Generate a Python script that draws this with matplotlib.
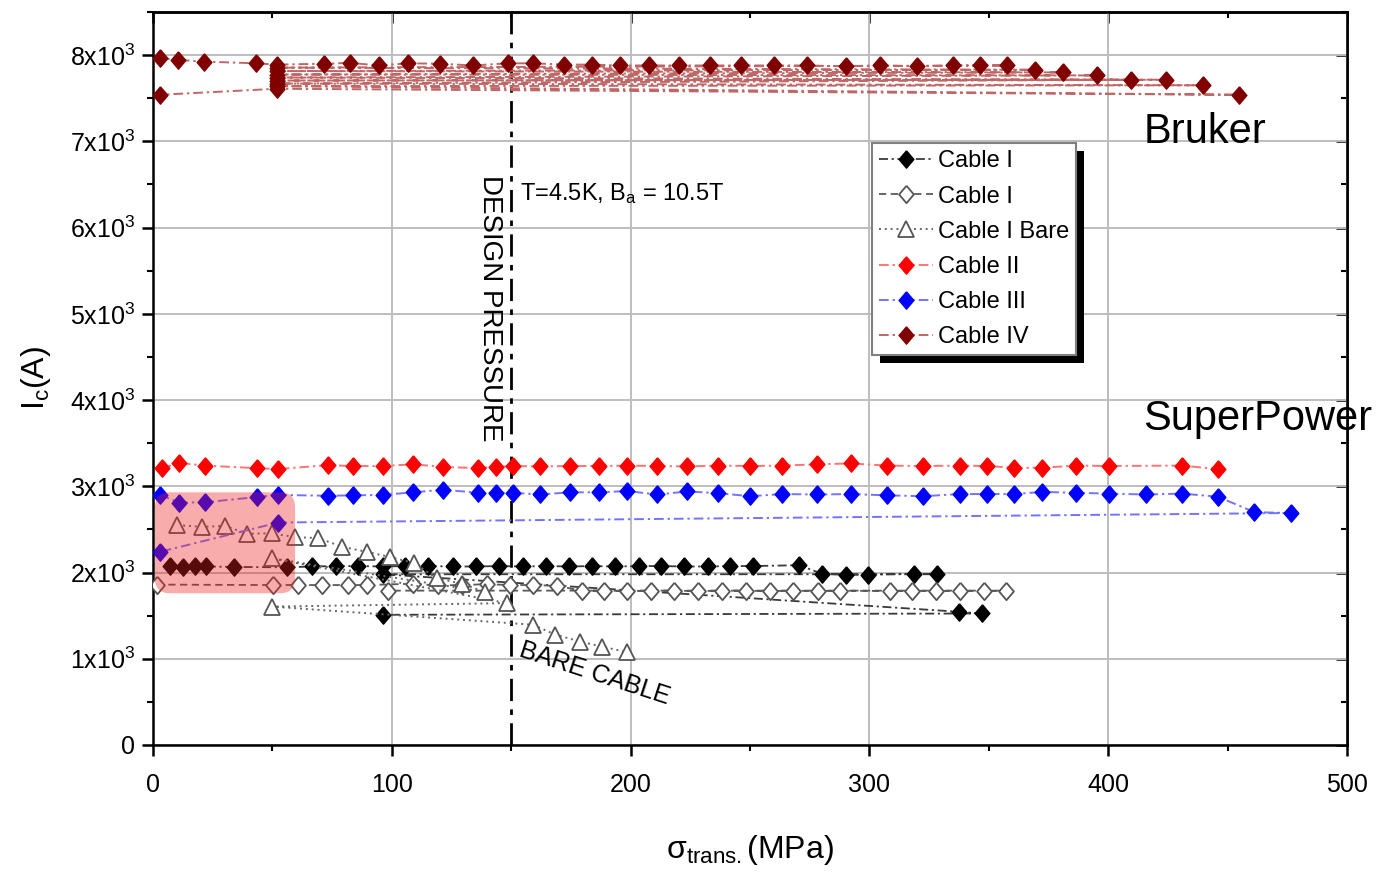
import matplotlib
matplotlib.use('Agg')
import matplotlib.pyplot as plt
from matplotlib.patches import FancyBboxPatch, Rectangle
from matplotlib.ticker import MultipleLocator, FuncFormatter

plt.rcParams['font.family'] = ['Liberation Sans', 'DejaVu Sans']
plt.rcParams['mathtext.fontset'] = 'custom'
plt.rcParams['mathtext.rm'] = 'Liberation Sans'
plt.rcParams['mathtext.it'] = 'Liberation Sans:italic'
plt.rcParams['mathtext.bf'] = 'Liberation Sans:bold'

# ---------------- data (MPa, A) ----------------
cable1_x = [7.1, 12.6, 17.6, 22.2, 34.0, 56.0, 66.5, 76.6, 86.0, 96.2, 105.5, 115.3, 125.5, 135.3,
            145.0, 154.9, 164.4, 174.4, 184.0, 193.5, 203.6, 212.9, 222.4, 232.3, 241.8, 251.4,
            270.6, 280.2, 290.0, 299.3, 318.7, 328.2, 96.2, 337.5, 347.1, 96.2]
cable1_y = [2070, 2065, 2070, 2070, 2065, 2060, 2070, 2075, 2075, 2070, 2075, 2075, 2070, 2070,
            2075, 2070, 2075, 2070, 2075, 2070, 2075, 2075, 2070, 2070, 2075, 2075,
            2085, 1985, 1975, 1975, 1985, 1980, 1980, 1545, 1525, 1510]

cable1o_x = [1.5, 50.1, 60.8, 70.6, 81.8, 89.5, 109.0, 119.3, 129.4, 139.7, 149.5, 159.1, 169.2,
             179.6, 188.9, 198.5, 208.5, 218.2, 228.2, 238.1, 248.5, 258.5, 268.2, 278.4, 287.7,
             308.6, 317.8, 327.9, 337.9, 348.0, 357.2, 98.5]
cable1o_y = [1860, 1855, 1855, 1855, 1855, 1855, 1870, 1850, 1855, 1865, 1855, 1855, 1845,
             1790, 1790, 1785, 1790, 1790, 1785, 1790, 1790, 1785, 1790, 1785, 1790,
             1785, 1790, 1785, 1790, 1785, 1790, 1790]

bare_x = [10.2, 20.4, 30.2, 39.5, 49.7, 59.5, 69.2, 79.0, 89.5, 99.2, 109.3, 118.8, 129.3, 139.0,
          49.7, 148.2, 49.7, 159.0, 168.5, 178.8, 188.2, 198.7]
bare_y = [2550, 2530, 2540, 2450, 2455, 2410, 2400, 2300, 2240, 2180, 2110, 1935, 1870, 1775,
          2165, 1645, 1605, 1395, 1280, 1200, 1140, 1075]

cable2_x = [3.6, 11.0, 21.8, 43.4, 52.5, 73.2, 83.6, 96.2, 108.8, 121.6, 136.2, 143.6, 150.9, 161.9,
            174.8, 186.8, 198.6, 211.1, 223.8, 236.8, 250.1, 263.6, 277.9, 292.3, 307.3, 322.4,
            337.9, 349.4, 360.7, 372.2, 386.4, 400.5, 430.8, 445.9]
cable2_y = [3210, 3270, 3240, 3210, 3200, 3245, 3235, 3235, 3255, 3225, 3210, 3225, 3235, 3230,
            3235, 3235, 3240, 3235, 3230, 3240, 3235, 3240, 3255, 3265, 3240, 3235,
            3240, 3235, 3215, 3215, 3240, 3235, 3240, 3200]

cable3_x = [2.9, 11.0, 21.8, 43.4, 52.5, 73.2, 83.6, 96.2, 108.8, 121.6, 136.2, 143.6, 150.9, 161.9,
            174.8, 186.8, 198.6, 211.1, 223.8, 236.8, 250.1, 263.6, 277.9, 292.3, 307.3, 322.4,
            337.9, 349.4, 360.7, 372.2, 386.4, 400.5, 415.7, 430.8, 445.9, 461.2, 476.6, 52.5, 2.9]
cable3_y = [2900, 2810, 2815, 2875, 2900, 2890, 2895, 2900, 2930, 2960, 2925, 2925, 2925, 2905,
            2930, 2930, 2945, 2905, 2940, 2920, 2885, 2910, 2905, 2910, 2895, 2885,
            2910, 2910, 2910, 2935, 2925, 2915, 2905, 2915, 2880, 2700, 2690, 2580, 2240]

cable4_x = [2.9, 10.3, 21.5, 43.0, 51.8, 71.7, 82.5, 94.6, 106.9, 120.2, 134.1, 148.5, 159.2, 172.2,
            183.7, 195.6, 207.7, 220.3, 233.2, 246.4, 260.1, 273.8, 290.0, 304.4, 319.9, 335.2,
            346.3, 357.6, 51.8, 369.3, 51.8, 381.0, 51.8, 395.3, 51.8, 409.5, 51.8, 424.2, 51.8,
            439.7, 51.8, 454.8, 51.8, 2.9]
cable4_y = [7965, 7945, 7925, 7905, 7890, 7900, 7910, 7880, 7905, 7900, 7880, 7905, 7905, 7890,
            7890, 7880, 7880, 7880, 7880, 7880, 7880, 7880, 7870, 7880, 7870, 7880,
            7880, 7880, 7855, 7830, 7815, 7800, 7775, 7765, 7740, 7715, 7705, 7715, 7670,
            7650, 7640, 7540, 7610, 7540]

series_labels = ['Cable I', 'Cable I', 'Cable I Bare', 'Cable II', 'Cable III', 'Cable IV']
x_ticks = [0, 100, 200, 300, 400, 500]
y_ticks = [0, 1000, 2000, 3000, 4000, 5000, 6000, 7000, 8000]

# ---------------- figure ----------------
fig = plt.figure(figsize=(13.8, 8.75), dpi=100)
ax = fig.add_axes([153/1380, 130/875, 1194/1380, 733/875])
ax.set_xlim(0, 500)
ax.set_ylim(0, 8500)

diamond = [(0, 1), (0.85, 0), (0, -1), (-0.85, 0), (0, 1)]
dashdot = (0, (5, 2, 1.2, 2))

ax.plot(cable1_x, cable1_y, ls=dashdot, color='#3a3a3a', lw=1.3, marker=diamond, ms=12.5,
        mfc='black', mec='black', label=series_labels[0], zorder=3)
ax.plot(cable1o_x, cable1o_y, ls=(0, (4, 2.5)), color='#5a5a5a', lw=1.3, marker=diamond, ms=12.5,
        mfc='white', mec='#555555', mew=1.3, label=series_labels[1], zorder=3)
ax.plot(bare_x, bare_y, ls=(0, (1, 2)), color='#666666', lw=1.4, marker='^', ms=11,
        mfc='white', mec='#555555', mew=1.3, label=series_labels[2], zorder=3)
ax.plot(cable2_x, cable2_y, ls=dashdot, color=(1, 0.45, 0.45), lw=1.4, marker=diamond, ms=12.5,
        mfc='red', mec='red', label=series_labels[3], zorder=3)
ax.plot(cable3_x, cable3_y, ls=dashdot, color=(0.45, 0.45, 1.0), lw=1.4, marker=diamond, ms=12.5,
        mfc='blue', mec='blue', label=series_labels[4], zorder=3)
ax.plot(cable4_x, cable4_y, ls=dashdot, color=(0.75, 0.4, 0.4), lw=1.4, marker=diamond, ms=12.5,
        mfc='#800000', mec='#800000', label=series_labels[5], zorder=3)

# design pressure line
ax.axvline(150, color='black', lw=2, ls=(0, (8, 3, 2, 3)), zorder=2)

# highlight box
xu = 500 / 1194.0
yu = 8500 / 733.0
box = FancyBboxPatch((0.8, 1760), 58.7, 1170,
                     boxstyle='round,pad=0,rounding_size=%f' % (15 * xu),
                     mutation_aspect=yu / xu, facecolor='#f02020', alpha=0.37,
                     edgecolor='none', zorder=4)
ax.add_patch(box)

# axes styling
ax.set_xticks(x_ticks)
ax.set_yticks(y_ticks)
ax.xaxis.set_minor_locator(MultipleLocator(50))
ax.yaxis.set_minor_locator(MultipleLocator(500))
ax.yaxis.set_major_formatter(FuncFormatter(
    lambda v, p: '0' if v == 0 else '%dx10$^\\mathrm{3}$' % int(round(v / 1000))))
ax.tick_params(which='major', direction='out', length=8, width=1.8, labelsize=18)
ax.tick_params(axis='x', which='major', pad=12)
ax.tick_params(axis='y', which='major', pad=5)
ax.tick_params(which='minor', direction='out', length=4.5, width=1.5)
ax.grid(True, which='major', color='#bdbdbd', lw=1.4)
ax.set_axisbelow(True)
for s in ax.spines.values():
    s.set_linewidth(1.8)

secx = ax.secondary_xaxis('top')
secx.set_xticks(x_ticks)
secx.xaxis.set_minor_locator(MultipleLocator(50))
secx.tick_params(which='major', direction='in', length=8, width=1.8, labeltop=False)
secx.tick_params(which='minor', direction='in', length=4.5, width=1.5)
secx.spines['top'].set_linewidth(1.8)
secy = ax.secondary_yaxis('right')
secy.set_yticks(y_ticks)
secy.yaxis.set_minor_locator(MultipleLocator(500))
secy.tick_params(which='major', direction='in', length=8, width=1.8, labelright=False)
secy.tick_params(which='minor', direction='in', length=4.5, width=1.5)
secy.spines['right'].set_linewidth(1.8)

ax.set_xlabel('σ$_\\mathrm{trans.}$(MPa)', fontsize=23, labelpad=26)
ax.set_ylabel('I$_\\mathrm{c}$(A)', fontsize=23, labelpad=12)

# annotations
ax.text(141, 6610, 'DESIGN PRESSURE', rotation=270, fontsize=20, ha='center', va='top', zorder=5)
ax.text(153.7, 6400, 'T=4.5K, B$_\\mathrm{a}$ = 10.5T', fontsize=17, ha='left', va='center', zorder=5)
ax.text(185, 830, 'BARE CABLE', rotation=-18, fontsize=18, ha='center', va='center',
        rotation_mode='anchor', zorder=5)
ax.text(415, 6985, 'Bruker', fontsize=30, ha='left', va='baseline', clip_on=False, zorder=5)
ax.text(414.5, 3655, 'SuperPower', fontsize=30, ha='left', va='baseline', clip_on=False, zorder=5)

# legend
leg = ax.legend(loc='upper left', bbox_to_anchor=(0.602, 0.821), borderaxespad=0,
                fontsize=17, frameon=True, fancybox=False, edgecolor='#808080',
                framealpha=1, labelspacing=0.56, handlelength=2.3, handletextpad=0.2,
                borderpad=0.3)
leg.get_frame().set_linewidth(1.5)
leg.set_zorder(6)

fig.canvas.draw()
bb = leg.get_window_extent()
inv = ax.transAxes.inverted()
(x0, y0) = inv.transform((bb.x0 + 8, bb.y0 - 8))
(x1, y1) = inv.transform((bb.x1 + 8, bb.y1 - 8))
ax.add_patch(Rectangle((x0, y0), x1 - x0, y1 - y0, transform=ax.transAxes,
                       facecolor='black', edgecolor='none', zorder=5.9, clip_on=False))

fig.savefig('out.png', dpi=100)
